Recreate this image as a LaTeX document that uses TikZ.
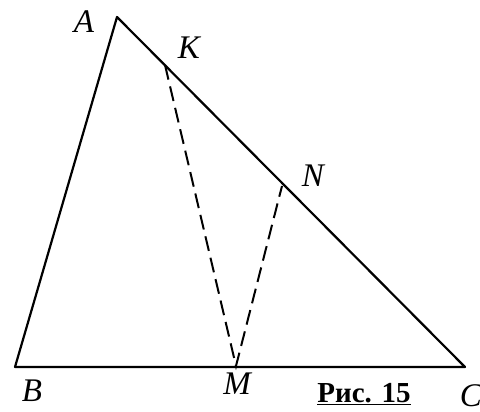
\documentclass[tikz,border=0pt]{standalone}
\usepackage{fontspec}
\setmainfont{Liberation Serif}
\begin{document}
\begin{tikzpicture}[x=1pt,y=-1pt,
  edge/.style={line width=2.2pt,line join=round},
  dashline/.style={line width=2pt,dash pattern=on 15pt off 7pt},
  lab/.style={font=\fontsize{33}{33}\selectfont\itshape,inner sep=0pt}]
\useasboundingbox (0,0) rectangle (480,412);
\coordinate (A) at (117,17);
\coordinate (B) at (15,367);
\coordinate (C) at (465,367);
\coordinate (K) at (165,65);
\coordinate (N) at (282,186);
\coordinate (M) at (236,366);
\draw[edge] (A) -- (B) -- (C) -- cycle;
\draw[dashline] (K) -- (M) -- (N);
\node[lab] (lA) at (84,22) {A};
\node[lab] (lK) at (189,48) {K};
\node[lab] (lN) at (313,176) {N};
\node[lab] (lB) at (32,391) {B};
\node[lab] (lM) at (237,384) {M};
\node[lab] (lC) at (471,396) {C};
\node[inner sep=0pt,anchor=base,font=\fontsize{29}{29}\selectfont\bfseries] (cap) at (364,402) {\underline{Рис. 15}};
\end{tikzpicture}
\end{document}
